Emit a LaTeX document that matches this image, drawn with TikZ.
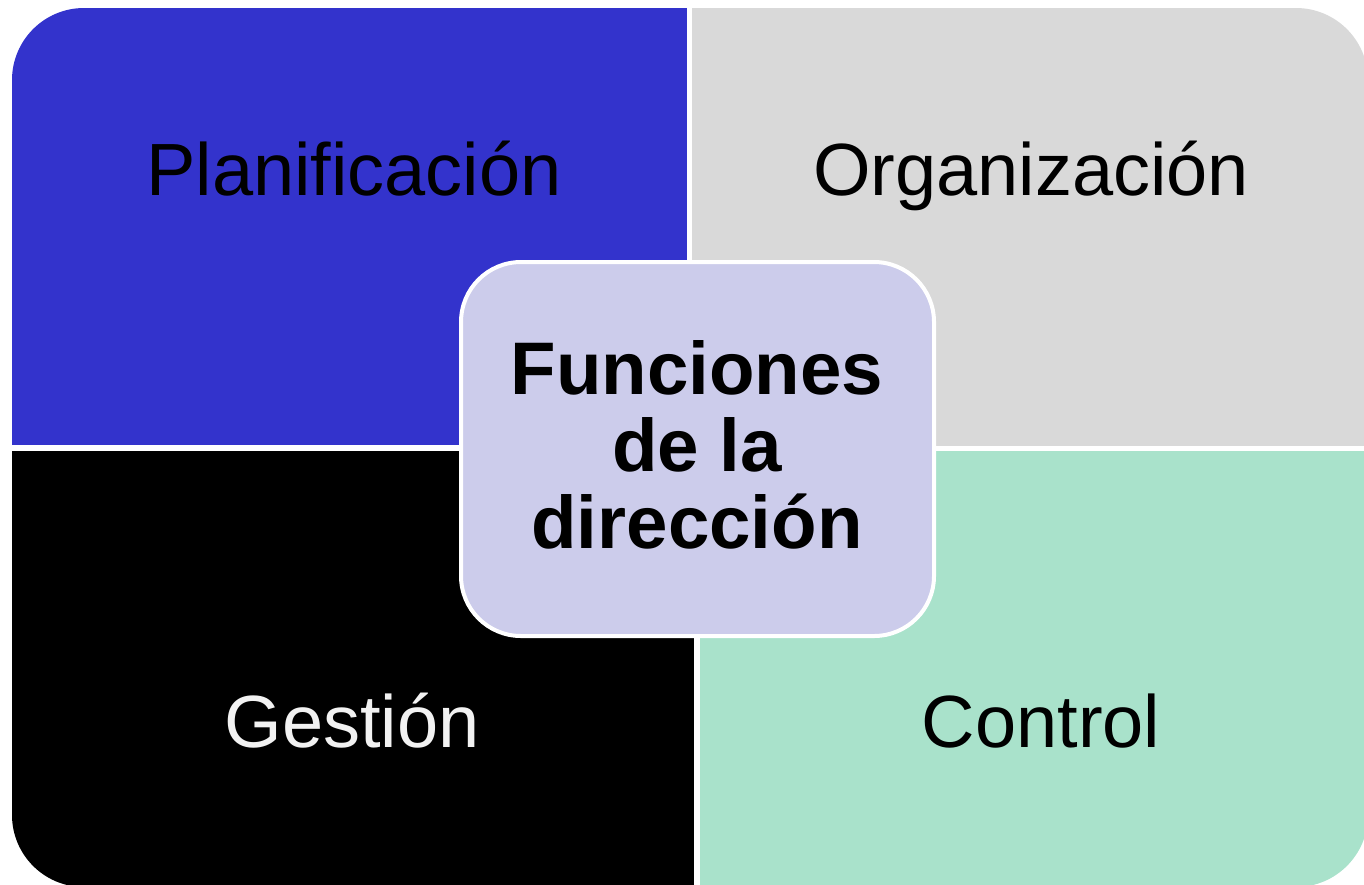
\documentclass[tikz,border=0pt]{standalone}
\usepackage{fontspec}
\setmainfont{Liberation Sans}
\definecolor{qblue}{HTML}{3333CC}
\definecolor{qgray}{HTML}{D9D9D9}
\definecolor{qblack}{HTML}{000000}
\definecolor{qgreen}{HTML}{A9E2CB}
\definecolor{qcenter}{HTML}{CCCCEB}
\definecolor{qwhite}{HTML}{F2F2F2}
\begin{document}
\begin{tikzpicture}[x=1pt,y=-1pt,
  qlabel/.style={anchor=base,inner sep=0pt,font=\fontsize{74}{77}\selectfont},
  centerbox/.style={draw=white,line width=4pt,fill=qcenter,rounded corners=60pt},
  centertext/.style={align=center,inner sep=0pt,font=\fontsize{74.5}{77}\selectfont\bfseries}]
\useasboundingbox (0,0) rectangle (1364,884);
\begin{scope}
  \clip[rounded corners=72pt] (12,8) rectangle (1368,887);
  \fill[qblue]  (12,8)    rectangle (687,445);
  \fill[qgray]  (692,8)   rectangle (1368,446);
  \fill[qblack] (12,451)  rectangle (694,887);
  \fill[qgreen] (700,451) rectangle (1368,887);
\end{scope}
\node[qlabel] (plan) at (354,195) {Planificación};
\node[qlabel] (org)  at (1031,195) {Organización};
\node[qlabel,text=qwhite] (gest) at (352,747) {Gestión};
\node[qlabel] (ctrl) at (1041,747) {Control};
\draw[centerbox] (461,262) rectangle (934,636);
\node[centertext] (fun) at (697,445) {Funciones\\de la\\dirección};
\end{tikzpicture}
\end{document}
